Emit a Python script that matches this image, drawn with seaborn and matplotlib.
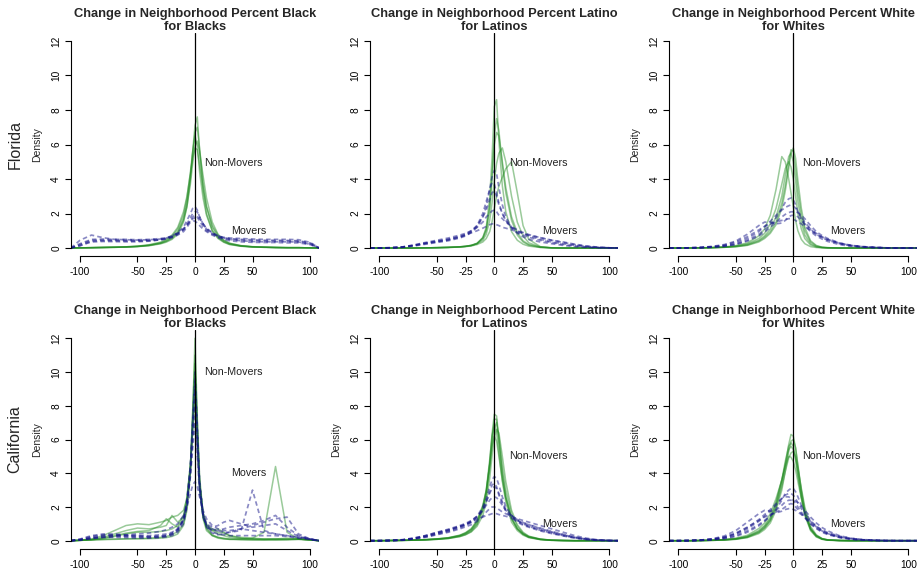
import numpy as np
import pandas as pd
import matplotlib
matplotlib.use("Agg")
import matplotlib.pyplot as plt
import seaborn as sns

# ---------------- data ----------------
X_GRID = [-108, -100, -90, -80, -70, -60, -50, -40, -30,
          -25, -20, -15, -10, -7, -4, -2, 0, 2, 4, 7, 10, 15, 20, 25,
          30, 40, 50, 60, 70, 80, 90, 100, 108]

X_TICKS = [-100, -50, -25, 0, 25, 50, 100]
Y_TICKS = [0, 2, 4, 6, 8, 10, 12]

ROW_NAMES = ["Florida", "California"]
TITLES = ["Change in Neighborhood Percent Black\nfor Blacks",
          "Change in Neighborhood Percent Latino\nfor Latinos",
          "Change in Neighborhood Percent White\nfor Whites"]

# Florida, Black
FLB_STAY = [
    [0,0.01,0.02,0.03,0.04,0.05,0.08,0.13,0.24, 0.34,0.5,0.8,1.5,2.4,4.0,5.6,7.1,7.6,5.6,3.3,2.0,1.0,0.55,0.33, 0.2,0.1,0.06,0.04,0.03,0.02,0.02,0.01,0],
    [0,0.01,0.02,0.03,0.04,0.06,0.09,0.15,0.28, 0.4,0.6,0.95,1.7,2.6,4.1,5.5,6.7,7.0,5.8,3.8,2.4,1.2,0.65,0.38, 0.24,0.12,0.07,0.05,0.03,0.02,0.02,0.01,0],
    [0,0.01,0.02,0.03,0.05,0.07,0.1,0.17,0.3, 0.45,0.68,1.1,1.9,2.9,4.4,5.6,6.5,5.9,4.4,2.9,1.9,1.0,0.6,0.36, 0.22,0.11,0.06,0.04,0.03,0.02,0.02,0.01,0],
    [0,0.01,0.02,0.03,0.04,0.06,0.09,0.15,0.27, 0.38,0.55,0.9,1.6,2.4,3.7,4.9,5.9,6.2,5.6,4.2,2.9,1.5,0.8,0.45, 0.27,0.13,0.07,0.05,0.03,0.02,0.02,0.01,0],
    [0,0.01,0.02,0.04,0.05,0.07,0.11,0.19,0.34, 0.5,0.75,1.2,2.1,3.0,4.3,5.2,5.8,5.7,4.8,3.5,2.4,1.3,0.75,0.45, 0.28,0.14,0.08,0.05,0.03,0.02,0.02,0.01,0],
]
FLB_MOVE = [
    [0,0.2,0.45,0.46,0.45,0.44,0.43,0.45,0.5, 0.55,0.65,0.8,1.05,1.3,1.6,1.8,1.9,1.8,1.55,1.25,1.0,0.8,0.65,0.55, 0.5,0.45,0.42,0.4,0.4,0.4,0.38,0.25,0],
    [0,0.45,0.75,0.6,0.5,0.48,0.46,0.48,0.52, 0.58,0.7,0.9,1.2,1.6,2.0,2.3,2.4,2.2,1.8,1.4,1.1,0.85,0.7,0.6, 0.55,0.5,0.48,0.45,0.45,0.44,0.42,0.3,0],
    [0,0.15,0.35,0.38,0.37,0.36,0.36,0.4,0.48, 0.55,0.65,0.85,1.1,1.35,1.55,1.6,1.55,1.45,1.3,1.1,0.95,0.75,0.6,0.5, 0.42,0.36,0.33,0.32,0.32,0.3,0.3,0.2,0],
    [0,0.25,0.5,0.52,0.5,0.5,0.48,0.5,0.55, 0.6,0.7,0.85,1.1,1.4,1.75,2.0,2.1,2.1,1.8,1.4,1.1,0.85,0.7,0.62, 0.58,0.55,0.52,0.5,0.5,0.5,0.48,0.33,0],
    [0,0.12,0.4,0.42,0.42,0.41,0.4,0.42,0.47, 0.52,0.6,0.75,0.95,1.2,1.5,1.7,1.75,1.8,1.7,1.4,1.15,0.9,0.7,0.58, 0.5,0.42,0.38,0.36,0.36,0.36,0.35,0.22,0],
]

# Florida, Latino
FLL_STAY = [
    [0,0,0,0,0,0.01,0.02,0.03,0.06, 0.09,0.14,0.25,0.6,1.2,2.9,5.2,8.2,8.6,6.2,3.6,2.1,0.95,0.45,0.22, 0.11,0.03,0.01,0,0,0,0,0,0],
    [0,0,0,0,0,0.01,0.02,0.04,0.07, 0.1,0.16,0.28,0.6,1.1,2.4,4.2,6.5,7.5,6.8,4.8,3.2,1.6,0.75,0.35, 0.17,0.04,0.01,0,0,0,0,0,0],
    [0,0,0,0,0,0.01,0.02,0.04,0.07, 0.1,0.15,0.25,0.45,0.8,1.6,2.6,3.9,4.9,5.5,5.8,5.0,3.0,1.5,0.7, 0.3,0.06,0.01,0,0,0,0,0,0],
    [0,0,0,0,0,0.01,0.02,0.03,0.06, 0.08,0.12,0.2,0.35,0.55,0.95,1.5,2.3,3.0,3.6,4.1,4.6,5.0,3.2,1.3, 0.5,0.08,0.01,0,0,0,0,0,0],
    [0,0,0,0,0,0.01,0.02,0.04,0.07, 0.1,0.15,0.26,0.55,1.0,2.2,4.0,6.0,6.7,6.5,5.0,3.5,1.8,0.9,0.42, 0.2,0.05,0.01,0,0,0,0,0,0],
]
FLL_MOVE = [
    [0,0,0.01,0.05,0.15,0.28,0.4,0.5,0.68, 0.8,1.0,1.3,1.8,2.2,2.8,3.2,3.3,3.0,2.5,2.0,1.6,1.2,1.0,0.85, 0.7,0.5,0.35,0.25,0.15,0.08,0.03,0.01,0],
    [0,0,0.01,0.04,0.12,0.22,0.32,0.42,0.58, 0.7,0.9,1.2,1.8,2.4,3.4,4.1,4.5,4.3,3.5,2.5,1.8,1.2,0.85,0.65, 0.5,0.35,0.25,0.15,0.08,0.04,0.02,0.01,0],
    [0,0,0.02,0.06,0.18,0.32,0.45,0.58,0.75, 0.85,1.0,1.2,1.5,1.8,2.0,2.15,2.2,2.1,1.9,1.7,1.5,1.25,1.05,0.9, 0.78,0.6,0.45,0.32,0.2,0.1,0.04,0.01,0],
    [0,0,0.02,0.06,0.16,0.28,0.38,0.5,0.65, 0.75,0.88,1.0,1.15,1.25,1.35,1.4,1.4,1.35,1.3,1.2,1.15,1.05,0.95,0.85, 0.75,0.6,0.45,0.35,0.22,0.12,0.05,0.01,0],
    [0,0,0.01,0.05,0.14,0.25,0.36,0.46,0.62, 0.75,0.95,1.3,2.0,2.7,3.4,3.8,3.7,3.2,2.6,2.0,1.6,1.15,0.9,0.75, 0.62,0.45,0.32,0.2,0.12,0.06,0.02,0.01,0],
]

# Florida, White
FLW_STAY = [
    [0,0,0,0.01,0.02,0.04,0.08,0.17,0.4, 0.62,0.95,1.5,2.6,3.6,4.9,5.7,5.6,4.6,3.3,1.9,1.0,0.35,0.12,0.04, 0.02,0,0,0,0,0,0,0,0],
    [0,0,0,0.01,0.02,0.05,0.1,0.2,0.45, 0.7,1.1,1.8,3.0,4.2,5.3,5.5,5.0,3.9,2.7,1.5,0.75,0.25,0.08,0.03, 0.01,0,0,0,0,0,0,0,0],
    [0,0,0,0.01,0.03,0.06,0.14,0.3,0.7, 1.1,1.9,3.4,5.3,5.0,4.0,3.2,2.4,1.6,1.0,0.5,0.25,0.08,0.03,0.01, 0,0,0,0,0,0,0,0,0],
    [0,0,0,0.01,0.02,0.04,0.07,0.15,0.35, 0.55,0.85,1.35,2.3,3.3,4.6,5.5,5.8,5.2,3.9,2.3,1.2,0.42,0.15,0.05, 0.02,0,0,0,0,0,0,0,0],
    [0,0,0,0.01,0.03,0.05,0.11,0.24,0.55, 0.85,1.4,2.3,3.7,4.6,5.0,4.7,4.0,3.0,2.0,1.1,0.55,0.18,0.06,0.02, 0.01,0,0,0,0,0,0,0,0],
]
FLW_MOVE = [
    [0,0,0.01,0.03,0.07,0.14,0.28,0.55,0.95, 1.25,1.55,1.9,2.2,2.35,2.45,2.5,2.45,2.3,2.1,1.8,1.5,1.1,0.8,0.6, 0.45,0.25,0.13,0.07,0.03,0.01,0,0,0],
    [0,0,0.01,0.02,0.05,0.11,0.22,0.45,0.8, 1.05,1.35,1.75,2.3,2.65,2.85,2.9,2.8,2.5,2.1,1.7,1.35,0.95,0.7,0.52, 0.38,0.2,0.1,0.05,0.02,0.01,0,0,0],
    [0,0,0.01,0.04,0.1,0.2,0.4,0.8,1.3, 1.5,1.5,1.4,1.45,1.6,1.8,1.88,1.9,1.9,1.8,1.6,1.4,1.1,0.85,0.65, 0.5,0.28,0.15,0.08,0.04,0.01,0,0,0],
    [0,0,0.01,0.02,0.05,0.1,0.2,0.4,0.7, 0.92,1.2,1.5,1.8,1.95,2.05,2.1,2.1,2.1,2.05,1.9,1.7,1.3,0.95,0.72, 0.55,0.3,0.16,0.08,0.04,0.01,0,0,0],
    [0,0,0.01,0.03,0.08,0.17,0.35,0.65,1.05, 1.25,1.4,1.5,1.6,1.65,1.7,1.7,1.65,1.6,1.5,1.4,1.25,1.0,0.8,0.62, 0.48,0.28,0.15,0.08,0.04,0.01,0,0,0],
]

# California, Black
CAB_STAY = [
    [0,0.02,0.05,0.08,0.1,0.12,0.12,0.12,0.15, 0.18,0.25,0.4,0.9,1.8,4.0,7.5,12.0,7.3,3.8,1.6,0.8,0.35,0.2,0.12, 0.08,0.05,0.04,0.04,0.05,0.06,0.08,0.05,0],
    [0,0.03,0.1,0.3,0.6,0.9,1.0,0.95,1.1, 1.2,1.4,1.5,1.8,2.5,4.5,7.2,10.5,6.5,3.2,1.3,0.6,0.3,0.2,0.15, 0.1,0.08,0.06,0.05,0.05,0.06,0.08,0.05,0],
    [0,0.02,0.08,0.2,0.4,0.6,0.75,0.7,0.8, 0.9,1.5,1.1,1.4,2.2,4.0,6.5,9.0,6.0,3.0,1.4,0.8,0.6,0.7,0.5, 0.3,0.15,0.1,0.08,0.1,0.15,0.1,0.05,0],
    [0,0.02,0.04,0.06,0.08,0.1,0.12,0.15,0.2, 0.25,0.35,0.55,1.0,2.0,4.3,7.8,11.0,7.0,3.5,1.5,0.7,0.3,0.15,0.1, 0.08,0.1,0.15,0.5,4.4,0.5,0.1,0.05,0],
    [0,0.02,0.05,0.15,0.3,0.45,0.55,0.6,0.9, 1.3,1.0,0.8,1.3,2.4,4.3,7.0,10.0,6.6,3.4,1.5,0.9,0.7,0.5,0.45, 0.3,0.2,0.15,0.1,0.08,0.08,0.1,0.06,0],
    [0,0.02,0.06,0.12,0.25,0.4,0.5,0.5,0.55, 0.6,0.7,0.9,1.5,2.6,4.5,6.5,8.5,6.0,3.4,1.7,1.0,0.6,0.4,0.3, 0.2,0.12,0.1,0.1,0.12,0.1,0.1,0.05,0],
]
CAB_MOVE = [
    [0,0.05,0.15,0.2,0.2,0.18,0.15,0.15,0.18, 0.22,0.3,0.5,1.0,2.0,4.2,7.0,10.0,6.8,3.5,1.6,0.9,0.5,0.4,0.35, 0.3,0.3,0.3,0.3,0.3,0.25,0.15,0.08,0],
    [0,0.08,0.25,0.35,0.3,0.25,0.2,0.2,0.22, 0.28,0.38,0.6,1.2,2.2,4.0,6.0,8.0,5.5,3.0,1.5,0.9,0.6,0.6,0.7, 0.8,0.9,1.0,1.2,1.5,0.8,0.3,0.1,0],
    [0,0.05,0.2,0.3,0.35,0.3,0.25,0.22,0.25, 0.3,0.4,0.65,1.2,2.1,3.8,5.5,7.0,5.0,2.8,1.4,0.9,0.7,0.6,0.5, 0.5,0.6,3.0,0.6,0.4,0.3,0.2,0.1,0],
    [0,0.1,0.3,0.4,0.4,0.35,0.3,0.25,0.28, 0.32,0.45,0.7,1.3,2.4,4.5,6.8,9.0,6.2,3.3,1.6,1.0,0.8,0.9,1.1, 1.2,1.0,0.8,0.9,1.0,0.6,0.25,0.1,0],
    [0,0.05,0.15,0.25,0.3,0.35,0.4,0.45,0.55, 0.65,0.8,1.0,1.5,2.0,2.8,3.3,3.5,3.2,2.6,1.8,1.3,0.9,0.7,0.6, 0.6,0.7,0.6,0.5,0.4,0.3,0.2,0.1,0],
    [0,0.04,0.12,0.2,0.25,0.28,0.3,0.3,0.35, 0.4,0.5,0.7,1.2,2.2,4.4,7.2,9.5,6.5,3.4,1.5,0.8,0.45,0.35,0.4, 0.5,0.7,0.9,1.1,1.3,1.4,0.4,0.1,0],
]

# California, Latino
CAL_STAY = [
    [0,0,0.01,0.02,0.03,0.05,0.08,0.13,0.25, 0.36,0.55,0.95,1.8,2.8,4.6,6.3,7.5,7.4,6.0,4.0,2.6,1.3,0.7,0.4, 0.22,0.08,0.03,0.01,0,0,0,0,0],
    [0,0,0.01,0.02,0.03,0.05,0.09,0.15,0.28, 0.4,0.6,1.0,1.8,2.7,4.2,5.6,6.7,7.0,6.2,4.4,3.0,1.6,0.85,0.45, 0.25,0.09,0.03,0.01,0,0,0,0,0],
    [0,0,0.01,0.02,0.04,0.07,0.11,0.18,0.33, 0.48,0.72,1.2,2.1,3.0,4.5,5.6,6.2,5.9,5.0,3.6,2.5,1.3,0.7,0.38, 0.2,0.07,0.02,0.01,0,0,0,0,0],
    [0,0,0.01,0.02,0.03,0.05,0.08,0.13,0.24, 0.35,0.52,0.85,1.5,2.3,3.7,5.0,6.1,6.6,6.4,5.0,3.5,1.8,0.95,0.5, 0.27,0.1,0.03,0.01,0,0,0,0,0],
    [0,0,0.01,0.02,0.03,0.06,0.1,0.16,0.3, 0.44,0.66,1.1,2.0,3.0,4.8,6.2,6.9,6.4,5.2,3.5,2.3,1.1,0.6,0.33, 0.18,0.06,0.02,0.01,0,0,0,0,0],
    [0,0,0.01,0.02,0.04,0.06,0.1,0.17,0.31, 0.45,0.68,1.15,2.0,2.9,4.5,6.0,7.2,7.2,5.8,3.9,2.6,1.35,0.72,0.4, 0.22,0.08,0.03,0.01,0,0,0,0,0],
]
CAL_MOVE = [
    [0,0,0.01,0.04,0.12,0.25,0.42,0.6,0.82, 0.95,1.15,1.45,2.0,2.5,3.2,3.6,3.8,3.7,3.3,2.6,2.0,1.5,1.2,1.0, 0.85,0.62,0.45,0.3,0.17,0.08,0.03,0.01,0],
    [0,0,0.01,0.05,0.15,0.3,0.5,0.68,0.9, 1.02,1.2,1.45,1.8,2.1,2.4,2.55,2.6,2.55,2.4,2.1,1.8,1.5,1.25,1.08, 0.95,0.72,0.52,0.35,0.2,0.1,0.04,0.01,0],
    [0,0,0.02,0.06,0.16,0.3,0.48,0.65,0.85, 0.95,1.1,1.25,1.4,1.5,1.55,1.6,1.6,1.6,1.55,1.5,1.45,1.35,1.2,1.05, 0.95,0.75,0.55,0.38,0.22,0.1,0.04,0.01,0],
    [0,0,0.01,0.04,0.13,0.27,0.45,0.62,0.85, 0.98,1.15,1.4,1.85,2.3,2.8,3.1,3.2,3.1,2.8,2.3,1.85,1.45,1.15,0.98, 0.85,0.65,0.48,0.32,0.18,0.08,0.03,0.01,0],
    [0,0,0.01,0.03,0.1,0.2,0.35,0.5,0.7, 0.82,0.95,1.15,1.45,1.7,1.9,2.0,2.0,1.95,1.85,1.7,1.6,1.45,1.3,1.2, 1.1,0.9,0.7,0.5,0.3,0.15,0.05,0.01,0],
    [0,0,0.01,0.04,0.11,0.22,0.38,0.55,0.76, 0.9,1.08,1.35,1.8,2.3,2.9,3.3,3.4,3.2,2.7,2.2,1.75,1.35,1.1,0.92, 0.8,0.58,0.42,0.28,0.15,0.07,0.02,0.01,0],
]

# California, White
CAW_STAY = [
    [0,0,0,0.01,0.02,0.04,0.09,0.2,0.48, 0.75,1.2,2.0,3.4,4.5,5.7,6.3,6.2,5.5,4.4,2.9,1.7,0.7,0.28,0.1, 0.04,0.01,0,0,0,0,0,0,0],
    [0,0,0,0.01,0.03,0.06,0.12,0.26,0.6, 0.9,1.4,2.3,3.6,4.5,5.4,5.6,5.4,4.8,3.9,2.6,1.6,0.65,0.25,0.09, 0.03,0.01,0,0,0,0,0,0,0],
    [0,0,0,0.01,0.03,0.07,0.15,0.32,0.72, 1.05,1.6,2.5,3.6,4.4,5.0,4.95,4.7,4.2,3.5,2.5,1.6,0.7,0.3,0.12, 0.05,0.01,0,0,0,0,0,0,0],
    [0,0,0,0.01,0.02,0.04,0.08,0.18,0.42, 0.66,1.05,1.8,3.0,4.1,5.3,5.9,6.0,5.5,4.5,3.0,1.8,0.75,0.3,0.11, 0.04,0.01,0,0,0,0,0,0,0],
    [0,0,0,0.01,0.02,0.05,0.1,0.22,0.5, 0.78,1.2,2.0,3.2,4.1,4.9,5.2,5.3,5.0,4.3,3.1,2.0,0.85,0.35,0.13, 0.05,0.01,0,0,0,0,0,0,0],
    [0,0,0,0.01,0.03,0.05,0.11,0.24,0.55, 0.85,1.3,2.2,3.6,4.7,5.6,5.8,5.6,4.9,3.9,2.6,1.5,0.6,0.22,0.08, 0.03,0.01,0,0,0,0,0,0,0],
]
CAW_MOVE = [
    [0,0,0.01,0.03,0.08,0.18,0.38,0.7,1.15, 1.45,1.75,2.1,2.5,2.7,2.8,2.8,2.7,2.5,2.25,1.9,1.6,1.15,0.82,0.58, 0.42,0.22,0.11,0.05,0.02,0.01,0,0,0],
    [0,0,0.01,0.04,0.12,0.28,0.6,1.1,1.6, 1.8,1.75,1.7,1.85,2.0,2.15,2.2,2.15,2.0,1.85,1.6,1.35,1.0,0.75,0.55, 0.4,0.22,0.11,0.05,0.02,0.01,0,0,0],
    [0,0,0,0.02,0.05,0.12,0.25,0.5,0.88, 1.15,1.45,1.85,2.4,2.8,3.0,3.1,3.1,2.9,2.6,2.1,1.7,1.2,0.85,0.6, 0.42,0.2,0.09,0.04,0.02,0,0,0,0],
    [0,0,0.01,0.03,0.07,0.15,0.3,0.58,0.95, 1.2,1.5,1.8,2.1,2.3,2.4,2.4,2.4,2.35,2.25,2.05,1.8,1.4,1.05,0.78, 0.58,0.3,0.15,0.07,0.03,0.01,0,0,0],
    [0,0,0.01,0.04,0.1,0.22,0.45,0.8,1.2, 1.4,1.55,1.65,1.75,1.85,1.9,1.9,1.85,1.8,1.7,1.55,1.4,1.1,0.85,0.65, 0.48,0.27,0.14,0.06,0.03,0.01,0,0,0],
    [0,0,0.01,0.03,0.09,0.2,0.42,0.78,1.25, 1.55,1.85,2.2,2.5,2.6,2.6,2.5,2.4,2.2,2.0,1.7,1.4,1.0,0.72,0.5, 0.36,0.19,0.09,0.04,0.02,0,0,0,0],
]

# ---------------- styling / layout ----------------
sns.set_theme(style="ticks")
plt.rcParams["font.family"] = ["Liberation Sans", "DejaVu Sans"]

GREEN = "#1F8A1F"
BLUE = "#16168A"
W, H = 919, 569

fig = plt.figure(figsize=(W / 100, H / 100), dpi=100)
fig.patch.set_facecolor("white")

COL_LEFT = [71, 370.3, 669.3]
AX_W = 248
ROW_TB = [(32.7, 256.3), (330.2, 548.8)]

PANELS = [
    (0, 0, FLB_STAY, FLB_MOVE, (33, 4.9), (47, 1.0), True),
    (0, 1, FLL_STAY, FLL_MOVE, (38, 4.9), (57, 1.0), False),
    (0, 2, FLW_STAY, FLW_MOVE, (33, 4.9), (47, 1.0), True),
    (1, 0, CAB_STAY, CAB_MOVE, (33, 10.0), (47, 4.0), True),
    (1, 1, CAL_STAY, CAL_MOVE, (38, 5.0), (57, 1.0), True),
    (1, 2, CAW_STAY, CAW_MOVE, (33, 5.0), (47, 1.0), True),
]


def to_long(curves):
    n = len(X_GRID)
    return pd.DataFrame({
        "x": np.tile(X_GRID, len(curves)),
        "density": np.concatenate([np.asarray(c, float) for c in curves]),
        "curve": np.repeat(np.arange(len(curves)), n),
    })


for row, col, stay, move, nm_pos, mv_pos, show_density in PANELS:
    top, bot = ROW_TB[row]
    left = COL_LEFT[col]
    ax = fig.add_axes([left / W, 1 - bot / H, AX_W / W, (bot - top) / H])
    ax.set_facecolor("white")

    sns.lineplot(data=to_long(stay), x="x", y="density", units="curve",
                 estimator=None, sort=False, color=GREEN, alpha=0.45,
                 lw=1.1, ax=ax, legend=False)
    sns.lineplot(data=to_long(move), x="x", y="density", units="curve",
                 estimator=None, sort=False, color=BLUE, alpha=0.5,
                 lw=1.25, ax=ax, legend=False, linestyle=(0, (2.6, 1.8)))

    ax.axvline(0, color="black", lw=0.9, zorder=5)

    ax.set_xlim(-107.8, 107.8)
    ax.set_ylim(-0.48, 12.48)
    ax.set_xticks(X_TICKS)
    ax.set_xticklabels([str(v) for v in X_TICKS])
    ax.set_yticks(Y_TICKS)
    ax.set_yticklabels([str(v) for v in Y_TICKS], rotation=90, va="center")
    ax.set_xlabel("")
    ax.set_ylabel("")
    for s in ["top", "right"]:
        ax.spines[s].set_visible(False)
    ax.spines["left"].set_bounds(0, 12)
    ax.spines["bottom"].set_bounds(-100, 100)
    for s in ["left", "bottom"]:
        ax.spines[s].set_linewidth(0.8)
        ax.spines[s].set_color("black")
    ax.tick_params(axis="both", direction="out", length=4.5, width=0.8,
                   labelsize=7.3, colors="black")
    ax.tick_params(axis="x", pad=3.5)
    ax.tick_params(axis="y", pad=2.5)
    ax.grid(False)

    ax.set_title(TITLES[col], fontsize=9.3, fontweight="bold", linespacing=1.12,
                 pad=1.5)
    ax.text(nm_pos[0], nm_pos[1], "Non-Movers", ha="center", va="center",
            fontsize=7.7, color="#222222")
    ax.text(mv_pos[0], mv_pos[1], "Movers", ha="center", va="center",
            fontsize=7.7, color="#222222")

    ymid = 1 - (top + bot) / 2 / H
    if show_density:
        fig.text((left - 34) / W, ymid, "Density", rotation=90, ha="center",
                 va="center", fontsize=7.5)
    if col == 0:
        fig.text(15 / W, ymid, ROW_NAMES[row], rotation=90, ha="center",
                 va="center", fontsize=11.5)

fig.savefig("out.png", dpi=100, facecolor="white")
